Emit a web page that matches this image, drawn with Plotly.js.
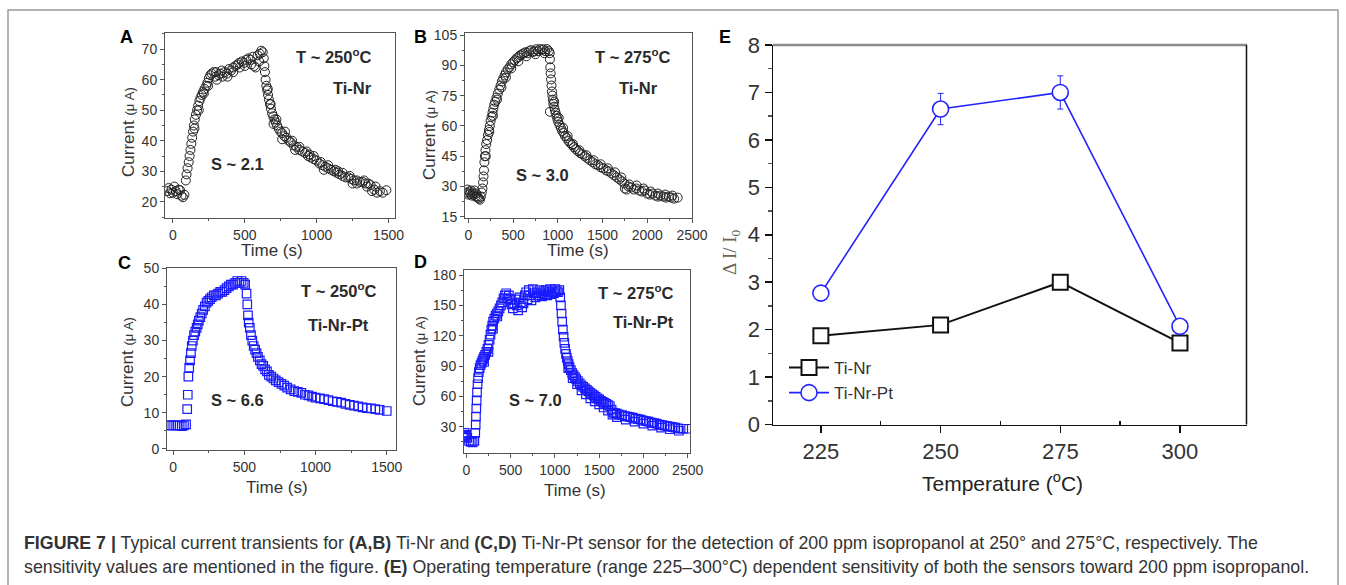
<!DOCTYPE html>
<html>
<head>
<meta charset="utf-8">
<script src="https://cdn.plot.ly/plotly-3.0.1.min.js"></script>
<style>
  html, body { margin:0; padding:0; background:#fff; }
  #chart { width:1346px; height:585px; }
</style>
</head>
<body>
<div id="chart"></div>
<script>
// ---------------- DATA ----------------
// Panel A: Ti-Nr, 250 C  (time s, current uA)
const timeA = [-40,-30,-20,-10,0,10,20,30,40,50,60,70,80,
  90,95,102,110,116,122,128,134,140,146,152,160,168,176,184,192,200,210,220,232,240,250,260,270,283,295,306,318,330,345,360,375,390,405,420,435,450,465,480,495,510,525,540,555,565,575,590,605,615,625,632,636,640,
  645,650,656,662,668,675,682,690,698,706,715,725,735,748,760,775,790,805,820,840,860,880,900,920,940,960,980,1000,1020,1040,1060,1080,1100,1120,1140,1160,1180,1200,1220,1240,1260,1280,1300,1320,1340,1360,1375,1385,1400,1420,1440,1460,1485,
  700,760,850,950,1050,1150,1250,1350,
  150,180,215,245,300,340,380,420,460,500,545,600,660,680,720,780,830,880,930,980,1030,1080,1130,1180,1230,1280,1330,1410];
const currA = [23.5,24.5,22.8,24,23,25,23.5,22.5,24,23.8,22,21.5,22.3,
  27,29,31,33,35,37,39,41,43,45,47,48.5,50,51.5,53,54,55,56,57,58,59,60.5,61.5,62,62.5,61,60,61.5,62,61,62.5,62,63.5,63,64,64.5,65,64,66,65.5,66.5,67,66.5,67.5,64.5,64,68,68.5,69.5,69,67,64.5,62.5,
  60,58,56.5,55,53.5,52,50.5,49,48,47,46,45,44,43,42.5,41.5,41,40,39.5,38.5,38,37,36.5,36,35,34.5,34,33.5,32.5,32,31.5,31,30.5,30,29.5,29,28.5,28,28,27.5,27,27,26.5,26.5,26,26,25.5,23.5,24,23,23.5,23,23.8,
  45.5,40.5,37,35.5,30.5,30,26,25,
  44,50,55.5,58,62.5,63,61,62.5,65.5,64.5,65,66,57,52,47,43,40,38,36.5,35,33,32,30.5,29.5,28.5,26,27,25];

// Panel B: Ti-Nr, 275 C
const timeB = [-20,-10,0,10,20,30,40,50,60,70,80,90,100,110,120,130,140,
  150,158,165,170,175,180,185,192,200,210,220,230,240,250,260,270,280,290,300,315,330,345,360,375,390,405,420,440,460,480,500,520,540,560,580,600,620,640,660,680,700,720,740,760,780,800,820,840,860,880,900,910,
  912,916,920,925,930,935,940,945,912,950,958,967,976,986,995,1005,1020,1035,1050,1065,1080,1100,1120,1140,1160,1180,1200,1225,1250,1275,1300,1330,1360,1390,1420,1450,1480,1510,1540,1570,1600,1630,1660,1690,1720,1745,1750,1770,1790,1820,1850,1880,1910,1940,1970,2000,2030,2060,2090,2120,2150,2180,2210,2240,2270,2300,2340,
  195,235,275,320,370,420,480,560,650,750,850,960,1010,1060,1110,1170,1240,1320,1400,1480,1560,1640,1710,1800,1880,1960,2040,2120,2200,2280];
const currB = [27,28.5,26,27.5,26.5,28,25.5,27,26,28,25,26.5,25,24.5,24,23.5,25,
  27,29,32,35,38,42,45,48,51,53,55.5,58,60,62.5,64.5,66.5,68.5,70.5,72,74,76,78,80,82,83.5,85,86.5,88,89,90.5,91.5,92.5,93.5,94,95,95.5,96,96.5,96,97,97.5,96.5,97,98,97,98,97.5,98,97,98,97,96,
  93,89,86,83,80,77,75,73,67,71,69.5,68,66.5,65,63.5,62,60.5,59,57.5,56.5,55,54,52.5,51.5,50.5,49.5,48.5,47.5,46.5,46,45,44,43,42,41,40.5,39.5,39,38,37.5,36.5,35.5,34.5,33.5,32.5,31.5,29,28.5,30,29.5,28.5,29,28,27.5,28,26.5,26,26.5,25.5,25,25.5,25,24.5,25,24.5,24,24.5,
  45,57,65,73,79,84,88.5,92,94.5,95.5,96,72,64,59,55,51,48,45.5,43,41,39,37,34.5,31,30.5,29,27.5,26.5,26,25.5];

// Panel C: Ti-Nr-Pt, 250 C
const timeC = [-30,-15,0,15,30,45,60,75,90,
  98,102,106,112,118,124,130,138,146,155,164,172,180,190,200,210,222,234,246,258,270,285,300,315,330,345,360,375,390,405,420,435,450,465,480,495,505,
  515,520,525,530,538,546,555,565,575,585,595,608,620,632,645,658,672,688,704,720,740,760,780,800,825,850,875,900,925,950,975,1000,1030,1060,1090,1120,1150,1180,1210,1240,1270,1300,1330,1360,1390,1420,1450,1500];
const currC = [6.5,6.5,6.5,6.5,6.5,6.5,6.3,6.5,6.8,
  11,15,20,22.5,24.5,26.5,28.5,30,31.5,32.5,33.5,34.5,35.5,36.5,37.5,38.5,39.5,40.5,41,41.5,42,42.5,42.5,43,43.5,43.5,44,44.5,45,45.5,45.5,46,46.5,46,46.5,46,45.5,
  43,40,37,35,33.5,31.5,30,28.5,27.5,26.5,25.5,24.5,23.5,23,22,21.5,20.5,20,19.5,19,18.5,18,17.5,17,16.5,16,15.8,15.5,15,14.8,14.5,14.2,14,13.8,13.5,13.2,13,12.8,12.5,12.2,12,11.8,11.5,11.3,11.2,11,10.8,10.5];

// Panel D: Ti-Nr-Pt, 275 C
const timeD = [-40,-30,-20,-10,0,10,30,50,70,90,
  100,105,108,112,116,120,126,132,140,150,160,170,180,190,200,212,225,238,250,262,272,282,292,302,315,330,345,360,375,390,405,420,435,450,465,480,495,510,525,540,555,570,585,600,615,630,645,660,675,690,705,720,735,750,765,780,795,810,825,840,855,870,885,900,915,930,945,960,975,990,1005,1020,1035,1050,1060,
  1068,1075,1082,1090,1098,1106,1115,1125,1135,1145,1155,1165,1180,1195,1210,1225,1240,1260,1280,1300,1320,1340,1360,1380,1400,1420,1440,1460,1480,1500,1520,1540,1560,1580,1600,1620,1640,1660,1680,1700,1730,1760,1790,1820,1850,1880,1910,1940,1970,2000,2030,2060,2090,2120,2150,2180,2210,2240,2270,2300,2330,2360,2390,2420,2450,2490,
  1150,1200,1250,1300,1350,1400,1450,1500,1550,1600,1650,1700,1800,1900,2000,2100,2200,2300,2400,200,250,300,350];
const currD = [22,20,24,21,22,19,16,15,14.5,16,
  24,32,40,48,56,64,72,78,84,88,91,93,95,97,99,101,104,107,111,116,121,126,130,134,137,140,142,144,147,150,153,157,160,162,157,160,156,151,147,152,156,150,145,158,153,148,152,160,163,156,165,160,155,166,162,158,163,160,165,162,159,164,161,165,160,163,166,161,164,162,166,164,163,165,158,
  150,142,134,126,119,113,107,102,98,95,92,89,86,83,81,79,77,75,73,71,69.5,68,66.5,65,63.5,62,61,59.5,58,57,55.5,54.5,53.5,52.5,51.5,50.5,47,44,43.5,43,42,41.5,40.5,40,39.5,39,38,37.5,37,36,35.5,35,34,33.5,33,32,31.5,31,30.5,30,29.5,29,28.5,28,28,28,
  88,78,72,66,62,58,55,52,49,46,42,39.5,37,35,33,31,29,27.5,26,94,104,127,139];

// Panel E: sensitivity vs temperature
const tempE = [225, 250, 275, 300];
const sensTiNr = [1.87, 2.1, 3.0, 1.72];
const errTiNr = [0.08, 0.05, 0.05, 0.08];
const sensTiNrPt = [2.77, 6.65, 7.0, 2.07];
const errTiNrPt = [0.05, 0.33, 0.35, 0.15];

// ---------------- LAYOUT HELPERS ----------------
const W = 1346, H = 585;
const px = v => v / W;
const py = v => 1 - v / H;

const smallTick = {family:'Arial, Liberation Sans, sans-serif', size:14, color:'#333'};
function smallAxis(dom, range, dtick, mdtick, anchor) {
  return {
    domain: dom, range: range, anchor: anchor, autorange:false,
    showgrid:false, zeroline:false, showline:true, linecolor:'#555', linewidth:1, mirror:true,
    ticks:'outside', ticklen:4, tickcolor:'#555', tickwidth:1, dtick:dtick, tick0:0,
    tickfont: smallTick,
    minor:{ticks:'outside', ticklen:2, tickcolor:'#555', dtick:mdtick, tick0:0}
  };
}

const scatterCircle = {mode:'markers', type:'scatter', showlegend:false,
  marker:{symbol:'circle-open', size:9, color:'#222', line:{width:1}}};
const scatterSquare = {mode:'markers', type:'scatter', showlegend:false,
  marker:{symbol:'square-open', size:8.5, color:'#1a1aff', line:{width:1.2}}};

const traces = [
  Object.assign({}, scatterCircle, {x:timeA, y:currA, xaxis:'x', yaxis:'y'}),
  Object.assign({}, scatterCircle, {x:timeB, y:currB, xaxis:'x2', yaxis:'y2'}),
  Object.assign({}, scatterSquare, {x:timeC, y:currC, xaxis:'x3', yaxis:'y3'}),
  Object.assign({}, scatterSquare, {x:timeD, y:currD, xaxis:'x4', yaxis:'y4'}),
  {x:tempE, y:sensTiNr, name:'Ti-Nr', type:'scatter', mode:'lines+markers', xaxis:'x5', yaxis:'y5',
   line:{color:'#111', width:2},
   marker:{symbol:'square', size:15, color:'#fff', line:{color:'#111', width:2}},
   error_y:{type:'data', array:errTiNr, color:'#111', thickness:1, width:3}},
  {x:tempE, y:sensTiNrPt, name:'Ti-Nr-Pt', type:'scatter', mode:'lines+markers', xaxis:'x5', yaxis:'y5',
   line:{color:'#2323ff', width:1.6},
   marker:{symbol:'circle', size:16, color:'#fff', line:{color:'#2323ff', width:1.6}},
   error_y:{type:'data', array:errTiNrPt, color:'#2323ff', thickness:1, width:3}}
];

const bigTick = {family:'Arial, Liberation Sans, sans-serif', size:22, color:'#333'};

const layout = {
  width:W, height:H, autosize:false,
  margin:{l:0, r:0, t:0, b:0, pad:0},
  paper_bgcolor:'#fff', plot_bgcolor:'rgba(0,0,0,0)',
  showlegend:true,
  legend:{x:px(784), y:py(350), xanchor:'left', yanchor:'top', bgcolor:'rgba(0,0,0,0)',
    font:{family:'Arial, Liberation Sans, sans-serif', size:17, color:'#333'}, tracegroupgap:0, itemwidth:40},
  xaxis:  smallAxis([px(165), px(395)], [-55, 1545], 500, 250, 'y'),
  yaxis:  smallAxis([py(218), py(33)], [14.7, 75.3], 10, 5, 'x'),
  xaxis2: smallAxis([px(465), px(692)], [-37, 2500], 500, 250, 'y2'),
  yaxis2: smallAxis([py(218), py(33)], [14.4, 106], 15, 7.5, 'x2'),
  xaxis3: smallAxis([px(167), px(396)], [-44, 1565], 500, 250, 'y3'),
  yaxis3: smallAxis([py(450), py(268)], [-0.3, 50.1], 10, 5, 'x3'),
  xaxis4: smallAxis([px(464), px(690)], [-27, 2526], 500, 250, 'y4'),
  yaxis4: smallAxis([py(453), py(270)], [4, 185], 30, 15, 'x4'),
  xaxis5: {domain:[px(773), px(1247)], range:[215, 314], anchor:'y5', autorange:false,
    showgrid:false, zeroline:false, showline:true, linecolor:'#111', linewidth:1.5, mirror:false,
    ticks:'outside', ticklen:7, tickwidth:1.5, tickcolor:'#111', tick0:225, dtick:25, tickfont:bigTick,
    minor:{ticks:'inside', ticklen:4, tickcolor:'#111', tickvals:[237.5, 262.5, 287.5]}},
  yaxis5: {domain:[py(424.5), py(45)], range:[0, 8], anchor:'x5', autorange:false,
    showgrid:false, zeroline:false, showline:true, linecolor:'#111', linewidth:1.5, mirror:false,
    ticks:'outside', ticklen:7, tickwidth:1.5, tickcolor:'#111', dtick:1, tick0:0, tickfont:bigTick,
    minor:{ticks:'outside', ticklen:4, tickcolor:'#555', dtick:0.5, tick0:0}},
  shapes:[
    {type:'rect', xref:'paper', yref:'paper', x0:px(8), x1:px(1338), y0:-0.05, y1:py(10),
     line:{color:'#9a9a9a', width:1.5}, fillcolor:'rgba(0,0,0,0)', layer:'below'},
    {type:'line', xref:'paper', yref:'paper', x0:px(773), x1:px(1247), y0:py(45), y1:py(45),
     line:{color:'#8a8a8a', width:2.5}},
    {type:'line', xref:'paper', yref:'paper', x0:px(1246.5), x1:px(1246.5), y0:py(45), y1:py(424.5),
     line:{color:'#111', width:1.5}}
  ],
  annotations:[]
};

const ann = layout.annotations;
function A(x, y, text, opts) {
  ann.push(Object.assign({xref:'paper', yref:'paper', x:px(x), y:py(y), text:text, showarrow:false,
    xanchor:'center', yanchor:'middle',
    font:{family:'Arial, Liberation Sans, sans-serif', size:15, color:'#222'}}, opts || {}));
}
const letterFont = {family:'Arial, Liberation Sans, sans-serif', size:18, color:'#000'};
A(126, 37, '<b>A</b>', {font:letterFont});
A(420, 37, '<b>B</b>', {font:letterFont});
A(124, 263, '<b>C</b>', {font:letterFont});
A(420, 262, '<b>D</b>', {font:letterFont});
A(725, 37, '<b>E</b>', {font:letterFont});

const titleFont = {family:'Arial, Liberation Sans, sans-serif', size:17, color:'#333'};
const curTitle = 'Current <span style="font-size:13px">(μ A)</span>';
A(129, 132, curTitle, {textangle:-90, font:titleFont});
A(429, 135, curTitle, {textangle:-90, font:titleFont});
A(127, 362, curTitle, {textangle:-90, font:titleFont});
A(419, 361, curTitle, {textangle:-90, font:titleFont});
A(272, 250, 'Time (s)', {font:titleFont});
A(578, 250, 'Time (s)', {font:titleFont});
A(277, 487, 'Time (s)', {font:titleFont});
A(575, 490, 'Time (s)', {font:titleFont});

const lab = {family:'Arial, Liberation Sans, sans-serif', size:16.5, color:'#2a2a2a'};
A(333, 56, '<b>T ~ 250<sup>o</sup>C</b>', {font:lab});
A(352, 88, '<b>Ti-Nr</b>', {font:lab});
A(237, 164, '<b>S ~ 2.1</b>', {font:lab});
A(632, 56, '<b>T ~ 275<sup>o</sup>C</b>', {font:lab});
A(638, 88, '<b>Ti-Nr</b>', {font:lab});
A(542, 175, '<b>S ~ 3.0</b>', {font:lab});
A(338, 290, '<b>T ~ 250<sup>o</sup>C</b>', {font:lab});
A(338, 325, '<b>Ti-Nr-Pt</b>', {font:lab});
A(237, 400, '<b>S ~ 6.6</b>', {font:lab});
A(635, 292, '<b>T ~ 275<sup>o</sup>C</b>', {font:lab});
A(643, 322, '<b>Ti-Nr-Pt</b>', {font:lab});
A(535, 400, '<b>S ~ 7.0</b>', {font:lab});

A(1002, 482, 'Temperature (<sup>o</sup>C)', {font:{family:'Arial, Liberation Sans, sans-serif', size:21, color:'#222'}});
A(731, 252, 'Δ I/ I<sub>0</sub>', {textangle:-90, font:{family:'Liberation Serif, Times New Roman, serif', size:19, color:'#6e5f58'}});

const capFont = {family:'Liberation Sans, Arial, sans-serif', size:17.8, color:'#333'};
A(22, 543, '<b>FIGURE 7 |</b> Typical current transients for <b>(A,B)</b> Ti-Nr and <b>(C,D)</b> Ti-Nr-Pt sensor for the detection of 200 ppm isopropanol at 250° and 275°C, respectively. The',
  {xanchor:'left', font:capFont});
A(22, 567, 'sensitivity values are mentioned in the figure. <b>(E)</b> Operating temperature (range 225–300°C) dependent sensitivity of both the sensors toward 200 ppm isopropanol.',
  {xanchor:'left', font:capFont});

Plotly.newPlot('chart', traces, layout, {staticPlot:true, displayModeBar:false});
</script>
</body>
</html>
